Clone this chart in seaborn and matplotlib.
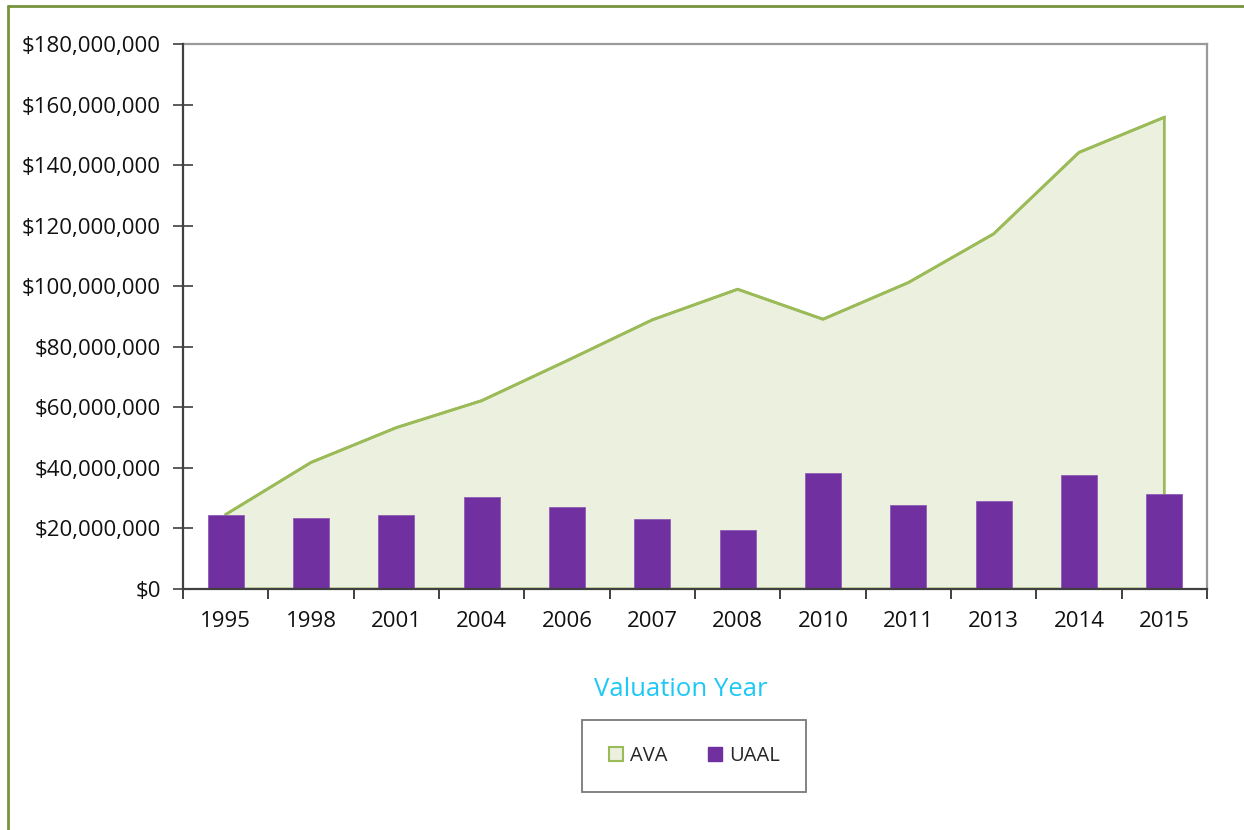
import numpy as np
import pandas as pd
import seaborn as sns
import matplotlib.pyplot as plt
from matplotlib.patches import Patch
from matplotlib.lines import Line2D
from matplotlib.ticker import FuncFormatter, FixedLocator

# ==========================================
# DATA
# ==========================================
YEARS = ["1995", "1998", "2001", "2004", "2006", "2007",
         "2008", "2010", "2011", "2013", "2014", "2015"]
AVA = [24.6e6, 41.8e6, 53.3e6, 62.2e6, 75.4e6, 88.9e6,
       99.0e6, 89.1e6, 101.2e6, 117.3e6, 144.2e6, 155.8e6]
UAAL = [24.5e6, 23.3e6, 24.3e6, 30.4e6, 27.2e6, 23.2e6,
        19.6e6, 38.3e6, 27.9e6, 29.2e6, 37.8e6, 31.3e6]

Y_TICKS = [0, 20e6, 40e6, 60e6, 80e6, 100e6, 120e6, 140e6, 160e6, 180e6]

PURPLE = "#7030A0"
AREA_FILL = "#EBF1DE"
AREA_LINE = "#9BBB59"
BORDER = "#77933C"
TITLE_BLUE = "#1EC8F5"
# ==========================================


def make_chart():
    sns.set_theme(style="white")
    plt.rcParams["font.family"] = ["Open Sans", "DejaVu Sans"]

    df = pd.DataFrame({"year": YEARS, "ava": AVA, "uaal": UAAL})
    df["pos"] = np.arange(len(df))

    fig = plt.figure(figsize=(12.44, 8.3), dpi=100)
    ax = fig.add_axes([183 / 1244, 1 - 589 / 830, 1024 / 1244, 545 / 830])

    # AVA area (filled polygon closed down to zero)
    xs = list(df["pos"]) + [df["pos"].iloc[-1], df["pos"].iloc[0]]
    ys = list(df["ava"]) + [0, 0]
    ax.fill(xs, ys, facecolor=AREA_FILL, edgecolor=AREA_LINE, linewidth=2, zorder=1)
    sns.lineplot(data=df, x="pos", y="ava", color=AREA_LINE, linewidth=2,
                 ax=ax, zorder=2)

    # UAAL bars
    sns.barplot(data=df, x="year", y="uaal", color=PURPLE, width=0.42,
                saturation=1, ax=ax, zorder=3, edgecolor="#8E5BB8", linewidth=0.6)

    ax.set_xlim(-0.5, len(YEARS) - 0.5)
    ax.set_ylim(0, 180e6)

    ax.set_yticks(Y_TICKS)
    ax.yaxis.set_major_formatter(FuncFormatter(lambda v, p: f"${v:,.0f}"))
    ax.set_xticks(range(len(YEARS)))
    ax.set_xticklabels(YEARS)
    ax.xaxis.set_minor_locator(FixedLocator(np.arange(-0.5, len(YEARS), 1.0)))

    ax.tick_params(axis="y", which="major", direction="inout", length=14,
                   width=1.2, color="#404040", labelsize=16, pad=9,
                   labelcolor="#111111", left=True)
    ax.tick_params(axis="x", which="major", length=0, labelsize=16, pad=16,
                   labelcolor="#111111", bottom=True)
    ax.tick_params(axis="x", which="minor", direction="inout", length=14,
                   width=1.2, color="#202020", bottom=True)

    for side in ["left", "bottom"]:
        ax.spines[side].set_color("#404040")
        ax.spines[side].set_linewidth(1.6)
        ax.spines[side].set_zorder(5)
    for side in ["top", "right"]:
        ax.spines[side].set_color("#9a9a9a")
        ax.spines[side].set_linewidth(1.6)

    ax.set_ylabel("")
    ax.set_xlabel("Valuation Year", fontsize=18.5, color=TITLE_BLUE)
    ax.xaxis.set_label_coords((681 - 183) / 1024, -(677 - 589) / 545)

    handles = [Patch(facecolor=AREA_FILL, edgecolor=AREA_LINE, linewidth=1.5),
               Patch(facecolor=PURPLE, edgecolor=PURPLE)]
    leg = fig.legend(handles, ["AVA", "UAAL"], loc="center",
                     bbox_to_anchor=(694 / 1244, 1 - 756 / 830), ncol=2,
                     fontsize=14.5, frameon=True, fancybox=False,
                     handlelength=0.7, handleheight=0.7, handletextpad=0.35,
                     columnspacing=2.0, borderpad=1.3, edgecolor="#595959")
    leg.get_frame().set_linewidth(1.3)

    # green outer border (top and left only, as in the reference)
    fig.add_artist(Line2D([8 / 1244, 8 / 1244], [0, 1 - 6 / 830],
                          transform=fig.transFigure, color=BORDER, linewidth=2))
    fig.add_artist(Line2D([8 / 1244, 1], [1 - 6 / 830, 1 - 6 / 830],
                          transform=fig.transFigure, color=BORDER, linewidth=2))

    fig.savefig("out.png", dpi=100)


if __name__ == "__main__":
    make_chart()
